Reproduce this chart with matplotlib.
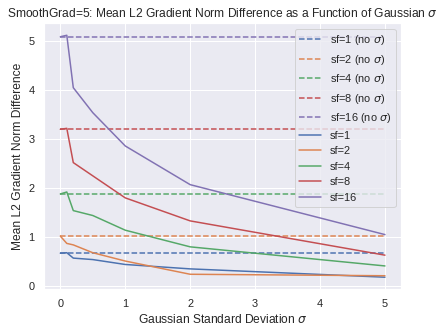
import numpy as np
import matplotlib
matplotlib.use("Agg")
import matplotlib.pyplot as plt
import seaborn as sns

sigmas = [0, 0.1, 0.2, 0.5, 1, 2, 5]
scale_factors = [1, 2, 4, 8, 16]

# baseline (no sigma) values per scale factor
no_sigma = [0.67, 1.02, 1.88, 3.20, 5.09]

# mean L2 gradient norm difference vs sigma
sf1 = [0.67, 0.68, 0.57, 0.54, 0.44, 0.35, 0.18]
sf2 = [1.02, 0.87, 0.84, 0.68, 0.51, 0.24, 0.21]
sf4 = [1.88, 1.92, 1.54, 1.44, 1.14, 0.80, 0.41]
sf8 = [3.20, 3.22, 2.52, 2.25, 1.80, 1.33, 0.63]
sf16 = [5.09, 5.12, 4.05, 3.54, 2.86, 2.07, 1.05]
curves = [sf1, sf2, sf4, sf8, sf16]

sns.set_theme()
plt.rcParams['font.family'] = ['Liberation Sans', 'DejaVu Sans']

colors = sns.color_palette()

fig, ax = plt.subplots(figsize=(6.4, 4.8), dpi=72)

for i, sf in enumerate(scale_factors):
    ax.plot([sigmas[0], sigmas[-1]], [no_sigma[i], no_sigma[i]], '--',
            color=colors[i], label=f'sf={sf} (no $\\sigma$)')

for i, sf in enumerate(scale_factors):
    ax.plot(sigmas, curves[i], '-', color=colors[i], label=f'sf={sf}')

ax.set_xlabel('Gaussian Standard Deviation $\\sigma$')
ax.set_ylabel('Mean L2 Gradient Norm Difference')
ax.set_title('SmoothGrad=5: Mean L2 Gradient Norm Difference as a Function of Gaussian $\\sigma$')
ax.legend(loc='upper right')

plt.savefig('out.png', dpi=72, bbox_inches='tight')
